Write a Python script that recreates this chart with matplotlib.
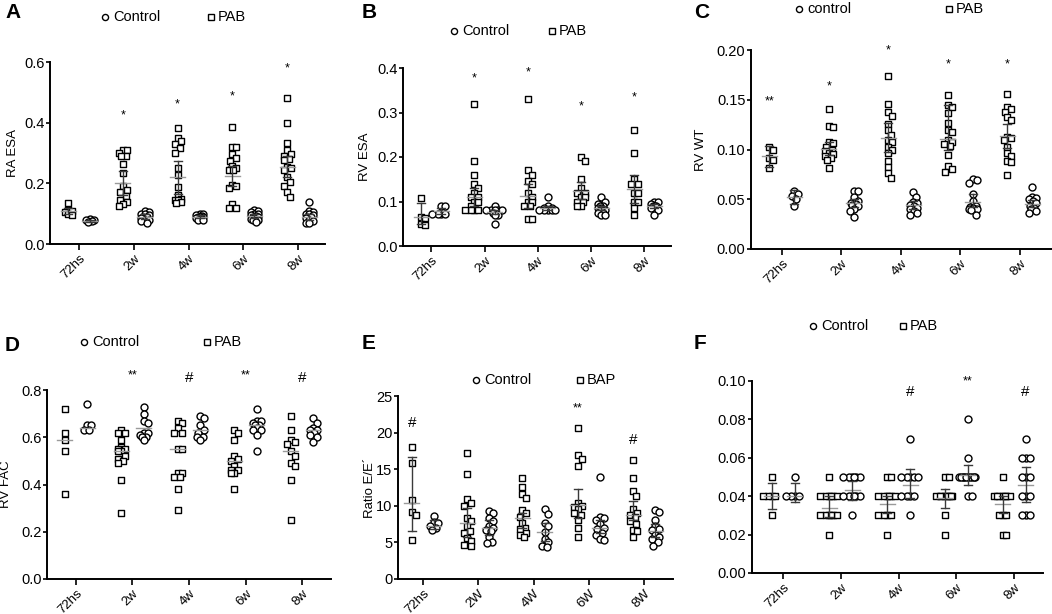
import numpy as np
import matplotlib
matplotlib.use('Agg')
import matplotlib.pyplot as plt
from matplotlib.lines import Line2D

plt.rcParams['font.family'] = ['Liberation Sans', 'DejaVu Sans']

W, H = 1052, 614
cats = ['72hs', '2w', '4w', '6w', '8w']
cats_E = ['72hs', '2W', '4W', '6W', '8W']

# ---------------- Panel A : RA ESA ----------------
A_pab = [
    [0.135, 0.112, 0.108, 0.105, 0.098, 0.097],
    [0.31, 0.31, 0.30, 0.29, 0.29, 0.265, 0.233, 0.19, 0.178, 0.17, 0.157, 0.146, 0.14, 0.132, 0.124],
    [0.383, 0.35, 0.34, 0.33, 0.315, 0.30, 0.25, 0.228, 0.187, 0.162, 0.15, 0.146, 0.145, 0.14, 0.135],
    [0.387, 0.32, 0.32, 0.297, 0.285, 0.275, 0.258, 0.25, 0.245, 0.245, 0.195, 0.19, 0.185, 0.132, 0.118, 0.118],
    [0.48, 0.40, 0.334, 0.31, 0.297, 0.29, 0.28, 0.277, 0.255, 0.25, 0.245, 0.222, 0.205, 0.19, 0.17, 0.154]]
A_ctrl = [
    [0.082, 0.080, 0.078, 0.075, 0.073],
    [0.11, 0.105, 0.10, 0.10, 0.095, 0.09, 0.088, 0.085, 0.08, 0.078, 0.075, 0.07],
    [0.10, 0.098, 0.095, 0.093, 0.09, 0.09, 0.088, 0.085, 0.082, 0.08, 0.078],
    [0.112, 0.108, 0.105, 0.10, 0.098, 0.095, 0.092, 0.09, 0.088, 0.085, 0.082, 0.08, 0.078, 0.072],
    [0.138, 0.11, 0.105, 0.10, 0.098, 0.095, 0.09, 0.088, 0.085, 0.08, 0.075, 0.07, 0.068]]
A_pab_mid = [0.11, 0.20, 0.22, 0.224, 0.255]
A_pab_lo = [0.10, 0.16, 0.166, 0.19, 0.22]
A_pab_hi = [0.12, 0.24, 0.274, 0.258, 0.29]
A_ctrl_mid = [0.077, 0.09, 0.09, 0.092, 0.09]
A_ctrl_lo = [0.074, 0.082, 0.085, 0.086, 0.08]
A_ctrl_hi = [0.08, 0.098, 0.095, 0.098, 0.10]
A_notes = [(1, -1, 0.425, '*'), (2, -1, 0.46, '*'), (3, -1, 0.486, '*'), (4, -1, 0.578, '*')]

# ---------------- Panel B : RV ESA ----------------
B_pab = [
    [0.107, 0.065, 0.063, 0.05, 0.047],
    [0.32, 0.19, 0.16, 0.14, 0.13, 0.12, 0.11, 0.11, 0.10, 0.10, 0.09, 0.08, 0.08, 0.08, 0.08],
    [0.33, 0.17, 0.16, 0.145, 0.14, 0.12, 0.11, 0.10, 0.10, 0.09, 0.09, 0.06, 0.06],
    [0.20, 0.19, 0.15, 0.13, 0.12, 0.12, 0.11, 0.11, 0.10, 0.10, 0.09, 0.09],
    [0.26, 0.21, 0.15, 0.14, 0.14, 0.12, 0.12, 0.10, 0.10, 0.085, 0.07]]
B_ctrl = [
    [0.09, 0.09, 0.073, 0.073, 0.073, 0.073],
    [0.09, 0.08, 0.08, 0.08, 0.08, 0.08, 0.075, 0.07, 0.07, 0.05],
    [0.11, 0.09, 0.085, 0.085, 0.08, 0.08, 0.08, 0.08, 0.08],
    [0.11, 0.10, 0.095, 0.09, 0.09, 0.085, 0.085, 0.08, 0.08, 0.08, 0.075, 0.075, 0.07, 0.07],
    [0.10, 0.10, 0.095, 0.09, 0.09, 0.09, 0.085, 0.08, 0.07]]
B_pab_mid = [0.066, 0.11, 0.113, 0.124, 0.128]
B_pab_lo = [0.05, 0.09, 0.085, 0.105, 0.096]
B_pab_hi = [0.097, 0.13, 0.14, 0.143, 0.16]
B_ctrl_mid = [0.078, 0.077, 0.085, 0.085, 0.09]
B_ctrl_lo = [0.072, 0.072, 0.081, 0.08, 0.086]
B_ctrl_hi = [0.085, 0.082, 0.089, 0.09, 0.094]
B_notes = [(1, -1, 0.376, '*'), (2, -1, 0.391, '*'), (3, -1, 0.313, '*'), (4, -1, 0.334, '*')]

# ---------------- Panel C : RV WT ----------------
C_pab = [
    [0.103, 0.099, 0.091, 0.089, 0.081],
    [0.141, 0.124, 0.123, 0.108, 0.107, 0.103, 0.100, 0.098, 0.096, 0.095, 0.093, 0.091, 0.089, 0.081],
    [0.174, 0.146, 0.138, 0.134, 0.126, 0.12, 0.115, 0.11, 0.108, 0.103, 0.10, 0.096, 0.088, 0.082, 0.076, 0.071],
    [0.155, 0.145, 0.143, 0.137, 0.127, 0.12, 0.118, 0.11, 0.108, 0.106, 0.104, 0.094, 0.083, 0.08, 0.077],
    [0.156, 0.143, 0.141, 0.138, 0.133, 0.13, 0.113, 0.112, 0.11, 0.103, 0.096, 0.093, 0.088, 0.087, 0.074]]
C_ctrl = [
    [0.058, 0.055, 0.053, 0.050, 0.043],
    [0.058, 0.058, 0.052, 0.048, 0.046, 0.045, 0.044, 0.043, 0.040, 0.038, 0.032],
    [0.057, 0.052, 0.047, 0.046, 0.044, 0.043, 0.041, 0.040, 0.038, 0.036, 0.034],
    [0.070, 0.069, 0.066, 0.055, 0.048, 0.043, 0.042, 0.041, 0.040, 0.040, 0.039, 0.034],
    [0.062, 0.052, 0.051, 0.050, 0.048, 0.046, 0.043, 0.041, 0.040, 0.038, 0.036]]
C_pab_mid = [0.093, 0.101, 0.112, 0.111, 0.114]
C_pab_lo = [0.082, 0.094, 0.097, 0.099, 0.102]
C_pab_hi = [0.104, 0.108, 0.127, 0.145, 0.126]
C_ctrl_mid = [0.052, 0.046, 0.044, 0.047, 0.045]
C_ctrl_lo = [0.045, 0.042, 0.040, 0.042, 0.042]
C_ctrl_hi = [0.059, 0.050, 0.048, 0.055, 0.049]
C_notes = [(0, -1, 0.148, '**'), (1, -1, 0.163, '*'), (2, -1, 0.200, '*'), (3, -1, 0.185, '*'), (4, -1, 0.185, '*')]

# ---------------- Panel D : RV FAC ----------------
D_pab = [
    [0.72, 0.62, 0.59, 0.54, 0.36],
    [0.63, 0.62, 0.62, 0.59, 0.56, 0.55, 0.55, 0.54, 0.54, 0.52, 0.51, 0.50, 0.49, 0.42, 0.28],
    [0.67, 0.66, 0.64, 0.62, 0.62, 0.55, 0.55, 0.45, 0.45, 0.43, 0.43, 0.38, 0.29],
    [0.63, 0.62, 0.59, 0.52, 0.51, 0.50, 0.48, 0.46, 0.46, 0.45, 0.45, 0.38],
    [0.69, 0.63, 0.59, 0.58, 0.57, 0.54, 0.52, 0.49, 0.48, 0.42, 0.25]]
D_ctrl = [
    [0.74, 0.65, 0.65, 0.63, 0.63],
    [0.73, 0.70, 0.67, 0.66, 0.62, 0.62, 0.61, 0.60, 0.60, 0.59],
    [0.69, 0.68, 0.65, 0.63, 0.62, 0.60, 0.60, 0.59],
    [0.72, 0.67, 0.67, 0.66, 0.65, 0.65, 0.64, 0.63, 0.63, 0.61, 0.54],
    [0.68, 0.66, 0.64, 0.63, 0.63, 0.62, 0.61, 0.60, 0.58]]
D_pab_mid = [0.59, 0.54, 0.55, 0.50, 0.54]
D_ctrl_mid = [0.64, 0.64, 0.63, 0.65, 0.63]
D_notes = [(1, 0, 0.86, '**'), (2, 0, 0.85, '#'), (3, 0, 0.86, '**'), (4, 0, 0.85, '#')]

# ---------------- Panel E : Ratio E/E' ----------------
E_pab = [
    [18.0, 15.9, 10.8, 9.2, 8.8, 5.3],
    [17.2, 14.3, 10.9, 10.4, 10.0, 8.3, 7.9, 7.2, 6.5, 6.3, 5.6, 5.2, 4.7, 4.5],
    [13.8, 12.6, 11.6, 11.0, 9.4, 9.0, 8.5, 7.7, 7.0, 6.8, 6.3, 6.0, 5.8],
    [20.6, 17.0, 16.4, 15.5, 10.4, 10.0, 9.9, 9.5, 9.0, 8.8, 8.1, 7.0, 5.8],
    [16.2, 13.8, 12.0, 11.3, 9.5, 9.0, 8.8, 8.5, 7.9, 7.5, 6.7, 6.5, 5.7]]
E_ctrl = [
    [8.6, 7.8, 7.6, 7.2, 7.0, 6.7],
    [9.3, 9.0, 8.3, 7.9, 7.2, 7.0, 6.7, 6.5, 5.8, 5.1, 4.9],
    [9.5, 8.9, 7.6, 7.2, 6.4, 5.4, 5.0, 4.5, 4.4],
    [13.9, 8.5, 8.3, 8.1, 7.5, 7.0, 6.8, 6.3, 6.0, 5.4, 5.3],
    [9.4, 9.2, 8.1, 7.2, 6.8, 6.7, 6.0, 5.8, 5.4, 5.0, 4.5]]
E_pab_mid = [10.4, 7.7, 8.3, 10.1, 8.8]
E_pab_lo = [6.6, 5.8, 7.0, 8.3, 8.0]
E_pab_hi = [16.6, 9.7, 9.0, 12.3, 10.6]
E_ctrl_mid = [7.3, 6.9, 6.4, 6.9, 6.5]
E_ctrl_lo = [6.8, 6.0, 5.2, 6.3, 5.8]
E_ctrl_hi = [8.0, 8.1, 7.7, 8.0, 7.5]
E_notes = [(0, -1, 21.3, '#'), (3, -1, 23.3, '**'), (4, -1, 19.0, '#')]

# ---------------- Panel F ----------------
F_pab = [
    [0.05, 0.04, 0.04, 0.04, 0.04, 0.03],
    [0.05, 0.04, 0.04, 0.04, 0.04, 0.04, 0.04, 0.03, 0.03, 0.03, 0.03, 0.03, 0.03, 0.02],
    [0.05, 0.05, 0.04, 0.04, 0.04, 0.04, 0.04, 0.04, 0.03, 0.03, 0.03, 0.03, 0.02],
    [0.05, 0.05, 0.04, 0.04, 0.04, 0.04, 0.04, 0.04, 0.04, 0.04, 0.03, 0.02],
    [0.05, 0.04, 0.04, 0.04, 0.04, 0.04, 0.04, 0.04, 0.03, 0.03, 0.03, 0.02, 0.02]]
F_ctrl = [
    [0.05, 0.04, 0.04, 0.04, 0.04],
    [0.05, 0.05, 0.05, 0.05, 0.05, 0.05, 0.04, 0.04, 0.04, 0.04, 0.04, 0.04, 0.03],
    [0.07, 0.05, 0.05, 0.05, 0.05, 0.05, 0.04, 0.04, 0.04, 0.04, 0.03],
    [0.08, 0.06, 0.05, 0.05, 0.05, 0.05, 0.05, 0.05, 0.05, 0.05, 0.05, 0.05, 0.04, 0.04],
    [0.07, 0.06, 0.06, 0.06, 0.05, 0.05, 0.05, 0.04, 0.04, 0.04, 0.03, 0.03, 0.03]]
F_pab_mid = [0.040, 0.034, 0.036, 0.039, 0.036]
F_pab_lo = [0.0333, 0.029, 0.031, 0.034, 0.031]
F_pab_hi = [0.047, 0.040, 0.040, 0.0435, 0.040]
F_ctrl_mid = [0.040, 0.043, 0.046, 0.051, 0.046]
F_ctrl_lo = [0.037, 0.038, 0.039, 0.046, 0.037]
F_ctrl_hi = [0.047, 0.048, 0.054, 0.056, 0.055]
F_notes = [(2, 1, 0.0943, '#'), (3, 1, 0.100, '**'), (4, 1, 0.0943, '#')]

# ----------------------------------------------------------
fig = plt.figure(figsize=(W / 100, H / 100), dpi=100)
fig.patch.set_facecolor('white')


def swarm(vals, ppx_y, ppx_x, d=5.5, limit=5.0, row_limit=9.0):
    """Deterministic beeswarm-like horizontal spread (pixel units)."""
    vals = np.asarray(vals, dtype=float)
    order = np.argsort(-vals, kind='stable')
    step = d / 2.0
    n = int(limit // step)
    cands = [0.0]
    for k in range(1, n + 1):
        cands += [k * step, -k * step]
    fine = sorted(np.arange(-row_limit, row_limit + 0.01, d / 3.0), key=abs)
    placed = []
    offs = np.zeros(len(vals))
    for i in order:
        y = vals[i] * ppx_y
        chosen = None
        for c in cands:
            if all((c - px) ** 2 + (y - py) ** 2 >= d * d for px, py in placed):
                chosen = c
                break
        if chosen is None:
            best, bestd = 0.0, -1
            same_row = sum(1 for px, py in placed if abs(py - y) < 0.5)
            lim = limit if same_row < 3 else row_limit
            for c in fine:
                if abs(c) > lim + 1e-9:
                    continue
                md = min(((c - px) ** 2 + (y - py) ** 2) for px, py in placed)
                if md > bestd + 1e-9:
                    best, bestd = c, md
            chosen = best
        placed.append((chosen, y))
        offs[i] = chosen / ppx_x
    return offs


def panel(box, xlim, ylim, yticks, fmt, ylabel, ylabel_x, labels, pab, ctrl,
          pab_bar, ctrl_bar, notes, offset=0.2):
    x0, x1, ytop, ybot = box
    ax = fig.add_axes([x0 / W, 1 - ybot / H, (x1 - x0) / W, (ybot - ytop) / H])
    ax.set_xlim(*xlim)
    ax.set_ylim(*ylim)
    wpx, hpx = x1 - x0, ybot - ytop
    ppx_x = wpx / (xlim[1] - xlim[0])
    ppx_y = hpx / (ylim[1] - ylim[0])
    for side, groups, marker, ms, bar in [(-1, pab, 's', 4.8, pab_bar), (1, ctrl, 'o', 5.0, ctrl_bar)]:
        for i, vals in enumerate(groups):
            xc = i + side * offset
            offs = swarm(vals, ppx_y, ppx_x)
            ax.scatter(xc + offs, vals, marker=marker, s=ms ** 2, facecolors='white',
                       edgecolors='black', linewidths=1.0, zorder=3, clip_on=False)
            mid = bar[0][i]
            lo = bar[1][i] if bar[1] else None
            hi = bar[2][i] if bar[2] else None
            mw = 7.5 / ppx_x
            cw = 4.0 / ppx_x
            ax.plot([xc - mw, xc + mw], [mid, mid], color='#9a9a9a', lw=1.0, zorder=4)
            if lo is not None:
                ax.plot([xc, xc], [lo, hi], color='#3a3a3a', lw=1.0, zorder=4)
                ax.plot([xc - cw, xc + cw], [lo, lo], color='#3a3a3a', lw=1.0, zorder=4)
                ax.plot([xc - cw, xc + cw], [hi, hi], color='#3a3a3a', lw=1.0, zorder=4)
    for (ci, side, y, txt) in notes:
        fs = 11 if txt == '#' else 9
        ax.text(ci + side * offset, y, txt, ha='center', va='center', fontsize=fs,
                clip_on=False, zorder=5)
    ax.set_xticks(range(len(labels)))
    ax.set_xticklabels(labels, rotation=45, ha='right', rotation_mode='anchor', fontsize=9.5)
    ax.set_yticks(yticks)
    ax.set_yticklabels([fmt.format(v) for v in yticks], fontsize=10.5)
    for s in ['top', 'right']:
        ax.spines[s].set_visible(False)
    for s in ['left', 'bottom']:
        ax.spines[s].set_linewidth(1.4)
    ax.tick_params(axis='y', direction='out', length=3, width=1.2, pad=1)
    ax.tick_params(axis='x', direction='out', length=4, width=1.2, pad=2)
    if ylabel:
        ax.set_ylabel(ylabel, fontsize=9.5)
        ax.yaxis.set_label_coords((ylabel_x - x0) / wpx, 0.5)
    ax.patch.set_alpha(0)
    return ax


panel((50, 325, 62, 244), (-0.53, 4.49), (0, 0.6), [0, 0.2, 0.4, 0.6], '{:.1f}', 'RA ESA', 19,
      cats, A_pab, A_ctrl, (A_pab_mid, A_pab_lo, A_pab_hi), (A_ctrl_mid, A_ctrl_lo, A_ctrl_hi), A_notes)
panel((403, 671, 68, 246), (-0.53, 4.5), (0, 0.4), [0, 0.1, 0.2, 0.3, 0.4], '{:.1f}', 'RV ESA', 371,
      cats, B_pab, B_ctrl, (B_pab_mid, B_pab_lo, B_pab_hi), (B_ctrl_mid, B_ctrl_lo, B_ctrl_hi), B_notes,
      offset=0.19)
panel((751, 1052, 50, 249), (-0.52, 4.54), (0, 0.2), [0, 0.05, 0.10, 0.15, 0.20], '{:.2f}', 'RV WT', 707,
      cats, C_pab, C_ctrl, (C_pab_mid, C_pab_lo, C_pab_hi), (C_ctrl_mid, C_ctrl_lo, C_ctrl_hi), C_notes,
      offset=0.21)
panel((47, 331, 390, 579), (-0.51, 4.51), (0, 0.8), [0, 0.2, 0.4, 0.6, 0.8], '{:.1f}', 'RV FAC', 12,
      cats, D_pab, D_ctrl, (D_pab_mid, None, None), (D_ctrl_mid, None, None), D_notes)
panel((398, 673, 396, 579), (-0.45, 4.52), (0, 25), [0, 5, 10, 15, 20, 25], '{:.0f}', 'Ratio E/E\u00b4', 376,
      cats_E, E_pab, E_ctrl, (E_pab_mid, E_pab_lo, E_pab_hi), (E_ctrl_mid, E_ctrl_lo, E_ctrl_hi), E_notes)
panel((752, 1043, 381, 573), (-0.54, 4.5), (0, 0.10), [0, 0.02, 0.04, 0.06, 0.08, 0.10], '{:.2f}', None, 0,
      cats, F_pab, F_ctrl, (F_pab_mid, F_pab_lo, F_pab_hi), (F_ctrl_mid, F_ctrl_lo, F_ctrl_hi), F_notes)

# legends (manual)
legends = [
    (105, 17, 'Control', 211, 'PAB'),
    (454, 31, 'Control', 552, 'PAB'),
    (799, 9, 'control', 949, 'PAB'),
    (84, 342, 'Control', 207, 'PAB'),
    (476, 380, 'Control', 580, 'BAP'),
    (813, 326, 'Control', 903, 'PAB'),
]
for cx, cy, ctxt, sx, stxt in legends:
    fig.add_artist(Line2D([cx / W], [1 - cy / H], marker='o', ms=4.4, mfc='white', mec='black',
                          mew=1.0, transform=fig.transFigure, linestyle='none'))
    fig.text((cx + 8) / W, 1 - cy / H, ctxt, fontsize=10.5, va='center', ha='left')
    fig.add_artist(Line2D([sx / W], [1 - cy / H], marker='s', ms=4.2, mfc='white', mec='black',
                          mew=1.0, transform=fig.transFigure, linestyle='none'))
    fig.text((sx + 7) / W, 1 - cy / H, stxt, fontsize=10.5, va='center', ha='left')

# panel letters
for lx, ly, L in [(5, 3, 'A'), (362, 3, 'B'), (694, 3, 'C'), (5, 336, 'D'), (362, 334, 'E'), (694, 334, 'F')]:
    fig.text(lx / W, 1 - ly / H, L, fontsize=15, fontweight='bold', ha='left', va='top')

fig.savefig('out.png', dpi=100, facecolor='white')
